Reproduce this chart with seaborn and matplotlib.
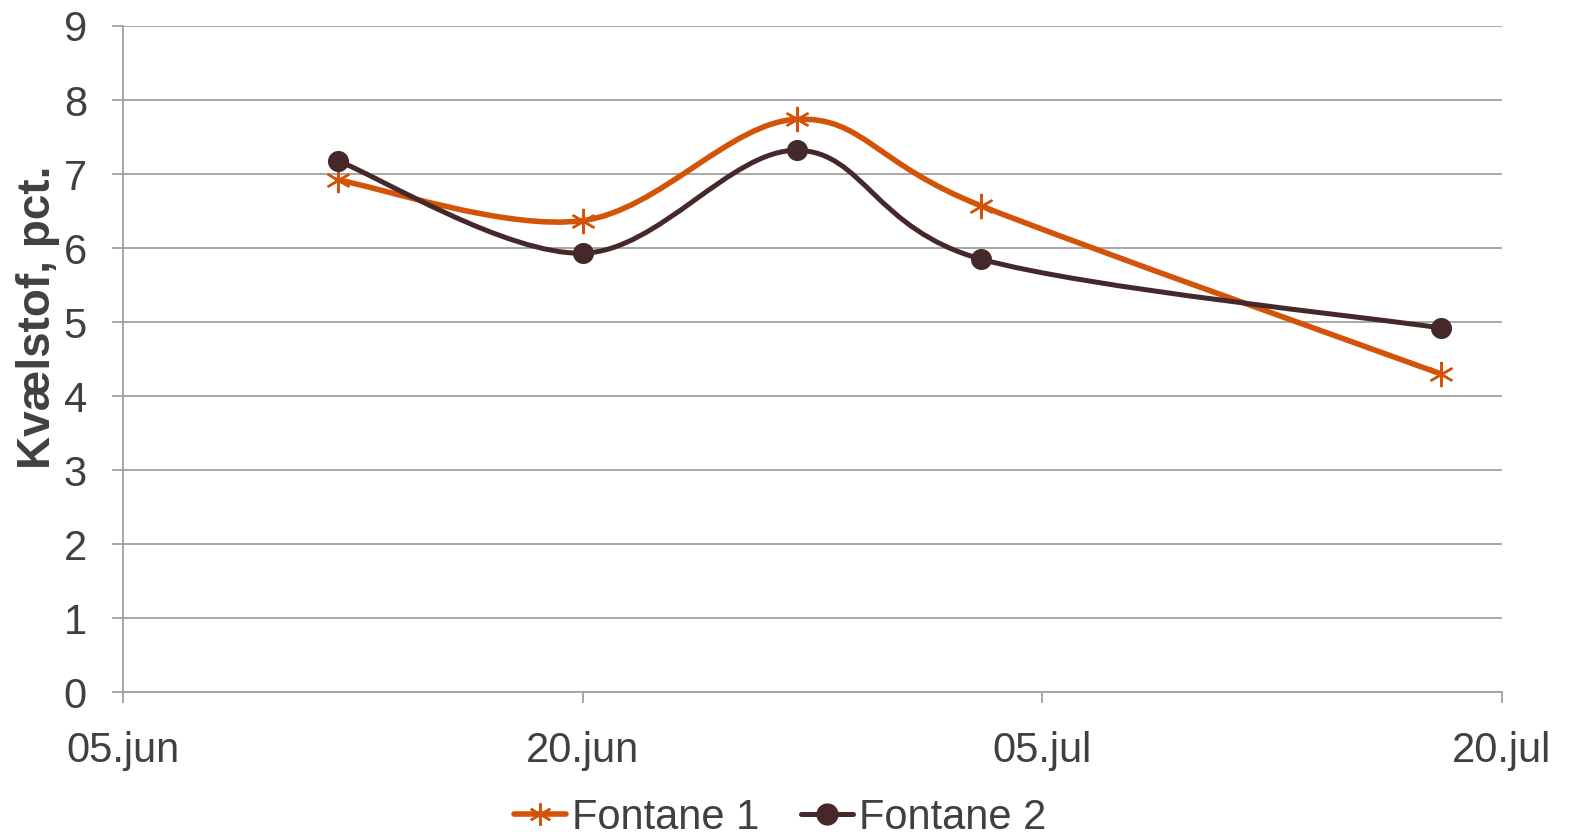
"""Nitrogen content in two fountains, early summer sampling."""

import matplotlib

matplotlib.use("Agg")

import matplotlib.dates as mdates
import matplotlib.pyplot as plt
import numpy as np
import pandas as pd
import seaborn as sns
from matplotlib.lines import Line2D
from matplotlib.patches import PathPatch
from matplotlib.path import Path

# Sampling dates and measured nitrogen (pct.)
dates = ["2013-06-12", "2013-06-20", "2013-06-27", "2013-07-03", "2013-07-18"]
fontane_1 = [6.92, 6.37, 7.74, 6.57, 4.30]
fontane_2 = [7.18, 5.93, 7.32, 5.85, 4.92]
series_names = ["Fontane 1", "Fontane 2"]
tick_dates = ["2013-06-05", "2013-06-20", "2013-07-05", "2013-07-20"]

ORANGE = "#D35408"
DARK = "#45282A"
GRID = "#A0A0A0"
TEXT = "#404040"

sns.set_theme(style="white")
plt.rcParams["font.family"] = ["Liberation Sans", "DejaVu Sans"]

df = pd.DataFrame(
    {
        "date": pd.to_datetime(dates * 2),
        "value": fontane_1 + fontane_2,
        "series": [series_names[0]] * len(dates) + [series_names[1]] * len(dates),
    }
)


def smooth_path(x, y):
    """Excel-style smoothed line: Catmull-Rom converted to cubic Bezier."""
    pts = np.column_stack([x, y])
    padded = np.vstack([pts[0], pts, pts[-1]])
    verts = [pts[0]]
    codes = [Path.MOVETO]
    for i in range(1, len(padded) - 2):
        p0, p1, p2, p3 = padded[i - 1], padded[i], padded[i + 1], padded[i + 2]
        verts += [p1 + (p2 - p0) / 6, p2 - (p3 - p1) / 6, p2]
        codes += [Path.CURVE4] * 3
    return Path(verts, codes)


fig = plt.figure(figsize=(15.79, 8.36), dpi=100)
ax = fig.add_axes([0.0779, 0.1722, 0.8733, 0.7967])

styles = {
    "Fontane 1": dict(color=ORANGE, marker=(6, 2, 0), size=280, mlw=1.7,
                      lw=4.0, z=3),
    "Fontane 2": dict(color=DARK, marker="o", size=230, mlw=0, lw=3.6, z=4),
}

for name, group in df.groupby("series"):
    st = styles[name]
    xs = mdates.date2num(group["date"])
    patch = PathPatch(
        smooth_path(xs, group["value"].to_numpy()),
        fill=False,
        edgecolor=st["color"],
        lw=st["lw"],
        zorder=st["z"],
        capstyle="round",
    )
    ax.add_patch(patch)

    sns.scatterplot(
        data=group,
        x="date",
        y="value",
        marker=st["marker"],
        s=st["size"],
        color=st["color"],
        edgecolor=st["color"],
        linewidth=st["mlw"],
        zorder=st["z"] + 0.5,
        legend=False,
        ax=ax,
    )

ticks = pd.to_datetime(tick_dates)
ax.set_xlim(ticks[0], ticks[-1])
ax.set_ylim(0, 9)
ax.set_xticks(ticks)
ax.set_xticklabels([t.strftime("%d.%b").lower() for t in ticks])
ax.set_yticks(range(0, 10))

ax.yaxis.grid(True, color=GRID, lw=1.3)
ax.xaxis.grid(False)
for side in ["top", "right"]:
    ax.spines[side].set_visible(False)
for side in ["left", "bottom"]:
    ax.spines[side].set_color(GRID)
    ax.spines[side].set_linewidth(1.3)

ax.tick_params(axis="both", labelsize=30, labelcolor=TEXT, colors=GRID,
               length=8, width=1.3, direction="out", bottom=True, left=True)
ax.tick_params(axis="x", pad=20)
ax.tick_params(axis="y", pad=18)
for lbl in ax.get_xticklabels() + ax.get_yticklabels():
    lbl.set_color(TEXT)

ax.set_xlabel("")
ax.set_ylabel("Kvælstof, pct.", fontsize=33, fontweight="bold", color=TEXT)
ax.yaxis.set_label_coords(-0.046, 0.563)

handles = [
    Line2D([], [], color=ORANGE, lw=4.0, marker=(6, 2, 0), markersize=16,
           markeredgewidth=1.7, markeredgecolor=ORANGE),
    Line2D([], [], color=DARK, lw=3.6, marker="o", markersize=15,
           markeredgecolor=DARK),
]
fig.legend(handles, series_names, loc="center",
           bbox_to_anchor=(0.494, 0.022), ncol=2, frameon=False,
           fontsize=30, handlelength=1.25, handletextpad=0.15,
           columnspacing=1.0, labelcolor=TEXT, borderpad=0)

fig.savefig("out.png", dpi=100)
plt.close(fig)
